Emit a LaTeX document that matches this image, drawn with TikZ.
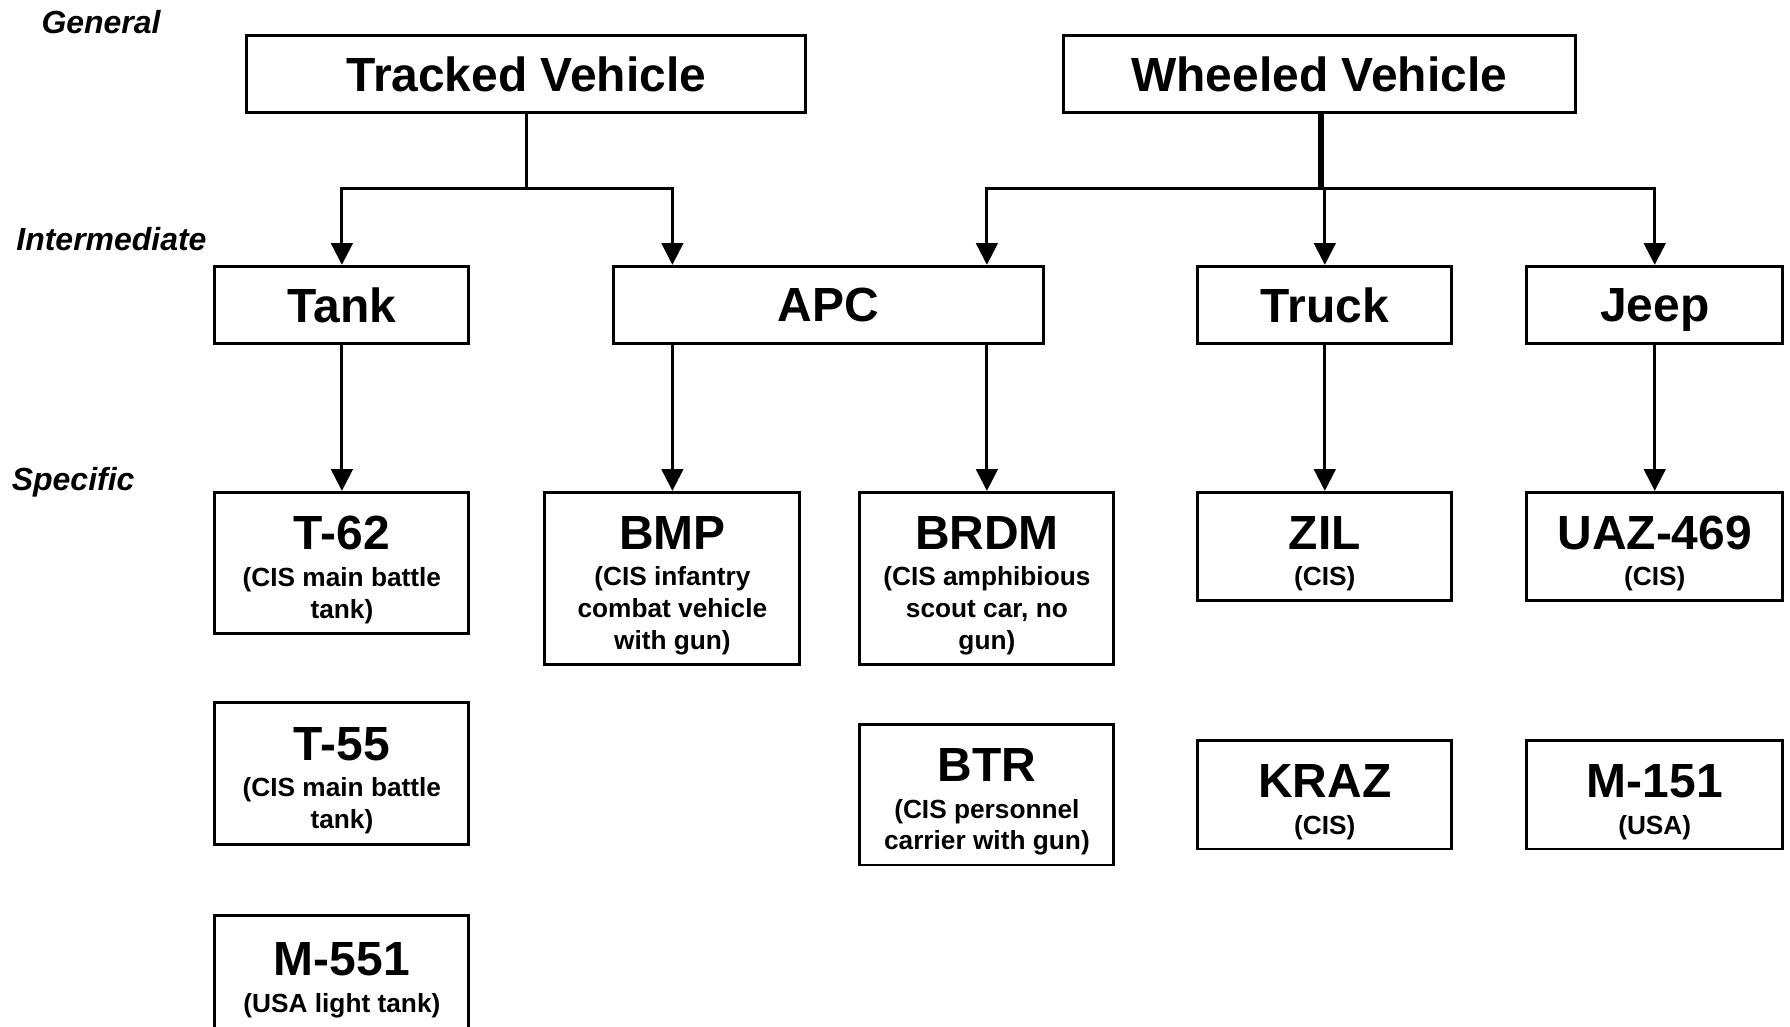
\documentclass[tikz,border=0pt]{standalone}
\usepackage{fontspec}
\setmainfont{Liberation Sans}
\usetikzlibrary{arrows.meta,positioning}
\newcommand{\vtitle}[1]{{\fontsize{21}{25}\selectfont\rule{0pt}{21pt}#1}}

\begin{document}
\begin{tikzpicture}[x=0.5pt,y=-0.5pt]
\tikzstyle{level}=[font=\fontsize{14}{17}\selectfont\bfseries\itshape, anchor=base west, inner sep=0pt]
\tikzstyle{box}=[rectangle, draw=black, line width=1.3pt, inner sep=0pt, align=center, minimum width=111.2pt]
\tikzstyle{head}=[box, font=\fontsize{21}{25}\selectfont\bfseries, minimum height=33.7pt, text depth=0pt]
\tikzstyle{item}=[box, font=\fontsize{11.5}{14}\selectfont\bfseries]
\tikzstyle{connect}=[-{Triangle[length=9.5pt,width=9.4pt]}, line width=1.3pt]
\tikzstyle{trunk}=[line width=1.3pt]
\useasboundingbox (0,0) rectangle (1568,899);
% levels
\node[level] (general) at (36,29) {General};
\node[level] (intermediate) at (14,219) {Intermediate};
\node[level] (specific) at (10,430) {Specific};
% general
\node[head, minimum width=244.7pt] (tracked) at (461,65) {Tracked Vehicle};
\node[head, minimum width=224.2pt] (wheeled) at (1155.5,65) {Wheeled Vehicle};
% intermediate
\node[head] (tank) at (299.5,267) {Tank};
\node[head, minimum width=188.2pt] (apc) at (725.5,267) {APC};
\node[head] (truck) at (1160.5,267) {Truck};
\node[head, minimum width=112.2pt] (jeep) at (1449.5,267) {Jeep};
% specific
\node[item, minimum height=61.7pt] (t62) at (299.5,493) {\vtitle{T-62}\\[2pt](CIS main battle\\tank)};
\node[item, minimum height=62.2pt] (t55) [below=29pt of t62] {\vtitle{T-55}\\[2pt](CIS main battle\\tank)};
\node[item, minimum height=49.7pt] (m551) [below=30pt of t55] {\vtitle{M-551}\\[2pt](USA light tank)};
\node[item, minimum height=75.2pt, minimum width=111.7pt] (bmp) at (589,506.5) {\vtitle{BMP}\\[2pt](CIS infantry\\combat vehicle\\with gun)};
\node[item, minimum height=75.2pt] (brdm) at (864.5,506.5) {\vtitle{BRDM}\\[2pt](CIS amphibious\\scout car, no\\gun)};
\node[item, minimum height=61.7pt] (btr) [below=25pt of brdm] {\vtitle{BTR}\\[2pt](CIS personnel\\carrier with gun)};
\node[item, minimum height=47.2pt] (zil) at (1160.5,478.5) {\vtitle{ZIL}\\[2pt](CIS)};
\node[item, minimum height=47.7pt] (kraz) [below=60pt of zil] {\vtitle{KRAZ}\\[2pt](CIS)};
\node[item, minimum height=47.2pt, minimum width=112.2pt] (uaz) at (1449.5,478.5) {\vtitle{UAZ-469}\\[2pt](CIS)};
\node[item, minimum height=47.7pt, minimum width=112.2pt] (m151) [below=60pt of uaz] {\vtitle{M-151}\\[2pt](USA)};
% connectors
\coordinate (busT) at (461,165);
\coordinate (busW) at (1157,165);
\draw[trunk] (tracked) -- (busT);
\draw[connect] (busT) -| (tank);
\draw[connect] (busT) -| (bmp |- apc.north);
\draw[trunk, line width=2.6pt] (busW |- wheeled.south) -- (busW);
\draw[connect] (busW) -| (brdm |- apc.north);
\draw[connect] (busW) -| (truck);
\draw[connect] (busW) -| (jeep);
\draw[connect] (tank) -- (t62);
\draw[connect] (bmp |- apc.south) -- (bmp);
\draw[connect] (brdm |- apc.south) -- (brdm);
\draw[connect] (truck) -- (zil);
\draw[connect] (jeep) -- (uaz);
\end{tikzpicture}
\end{document}
